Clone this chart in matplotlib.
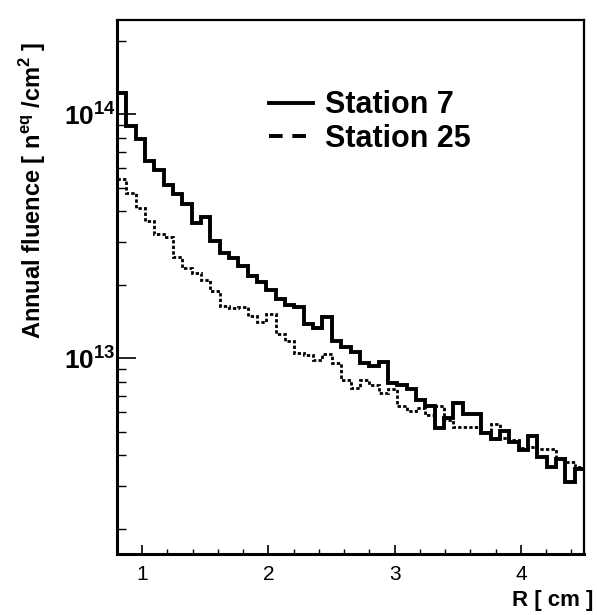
import numpy as np
import matplotlib
matplotlib.use("Agg")
import matplotlib.pyplot as plt
from matplotlib.lines import Line2D
from matplotlib.ticker import FixedLocator, LogLocator, MultipleLocator, NullFormatter

plt.rcParams['font.family'] = ['Liberation Sans', 'DejaVu Sans']
plt.rcParams['mathtext.fontset'] = 'custom'
plt.rcParams['mathtext.rm'] = 'Liberation Sans'
plt.rcParams['mathtext.bf'] = 'Liberation Sans:bold'

# ---- data ----
r_min, r_max, n_bins = 0.8, 4.5, 50
station7 = [1.22e14, 8.93e13, 7.92e13, 6.44e13, 5.90e13, 5.12e13, 4.70e13, 4.28e13, 3.58e13, 3.79e13,
            3.02e13, 2.70e13, 2.57e13, 2.38e13, 2.17e13, 2.05e13, 1.91e13, 1.74e13, 1.65e13, 1.62e13,
            1.38e13, 1.33e13, 1.47e13, 1.17e13, 1.11e13, 1.06e13, 9.51e12, 9.30e12, 9.60e12, 7.88e12,
            7.75e12, 7.44e12, 6.73e12, 6.36e12, 5.18e12, 5.66e12, 6.52e12, 5.90e12, 5.90e12, 4.91e12,
            4.64e12, 5.02e12, 4.54e12, 4.20e12, 4.79e12, 3.92e12, 3.58e12, 3.84e12, 3.11e12, 3.50e12]
station25 = [5.40e13, 4.73e13, 4.11e13, 3.65e13, 3.21e13, 3.14e13, 2.59e13, 2.33e13, 2.24e13, 2.09e13,
             1.89e13, 1.63e13, 1.60e13, 1.62e13, 1.49e13, 1.41e13, 1.51e13, 1.26e13, 1.17e13, 1.05e13,
             1.03e13, 9.81e12, 1.04e13, 9.51e12, 8.13e12, 7.55e12, 8.13e12, 7.75e12, 7.21e12, 7.44e12,
             6.36e12, 6.08e12, 6.22e12, 5.84e12, 6.36e12, 5.57e12, 5.23e12, 5.20e12, 5.23e12, 4.99e12,
             5.35e12, 4.69e12, 4.61e12, 4.27e12, 4.31e12, 4.23e12, 4.25e12, 3.88e12, 3.76e12, 3.58e12]
labels = ["Station 7", "Station 25"]
x_ticks = [1, 2, 3, 4]
x_ticklabels = ["1", "2", "3", "4"]
y_ticks = [1e13, 1e14]
y_ticklabels = [r"$\mathbf{10^{13}}$", r"$\mathbf{10^{14}}$"]
y_lim = (1.574e12, 2.43e14)

edges = np.linspace(r_min, r_max, n_bins + 1)

W, H = 597, 615
fig = plt.figure(figsize=(W / 100, H / 100), dpi=100)
ax = fig.add_axes([117 / W, 1 - 554 / H, (584 - 117) / W, (554 - 20) / H])

ax.stairs(station7, edges, baseline=None, color='black', lw=2.8)
ax.stairs(station25, edges, baseline=None, color='black', lw=2.0, linestyle=(0, (1.2, 0.8)))

ax.set_yscale('log')
ax.set_xlim(r_min, r_max)
ax.set_ylim(*y_lim)

ax.yaxis.set_major_locator(FixedLocator(y_ticks))
ax.set_yticklabels(y_ticklabels)
ax.yaxis.set_minor_locator(LogLocator(base=10, subs=np.arange(2, 10)))
ax.yaxis.set_minor_formatter(NullFormatter())
ax.set_xticks(x_ticks)
ax.set_xticklabels(x_ticklabels)
ax.xaxis.set_minor_locator(MultipleLocator(0.2))

ax.tick_params(axis='y', which='major', direction='in', length=14, width=1.2, labelsize=19, pad=1)
ax.tick_params(axis='y', which='minor', direction='in', length=6.5, width=1.0)
ax.tick_params(axis='x', which='major', direction='in', length=6.5, width=1.2, labelsize=15, pad=8)
ax.tick_params(axis='x', which='minor', direction='in', length=3.3, width=1.0)

for side in ['left', 'bottom']:
    ax.spines[side].set_linewidth(2.2)
for side in ['top', 'right']:
    ax.spines[side].set_linewidth(1.6)

handles = [Line2D([], [], color='black', lw=2.8),
           Line2D([], [], color='black', lw=2.8, linestyle=(0, (3.5, 2.5)))]
leg = ax.legend(handles, labels, loc='upper left', bbox_to_anchor=(0.325, 0.868),
                frameon=False, borderpad=0, borderaxespad=0, handlelength=1.45,
                handletextpad=0.40, labelspacing=0.12,
                prop={'family': 'Liberation Sans', 'weight': 'bold', 'size': 22})

fig.text(33 / W, 1 - 42 / H, r"Annual fluence [ n$^{\mathbf{eq}}$ /cm$^{\mathbf{2}}$ ]",
         rotation=90, ha='center', va='top', fontsize=17, fontweight='bold')
fig.text(593 / W, 1 - 606 / H, "R [ cm ]", ha='right', va='baseline', fontsize=16, fontweight='bold')

fig.savefig('out.png', dpi=100)
